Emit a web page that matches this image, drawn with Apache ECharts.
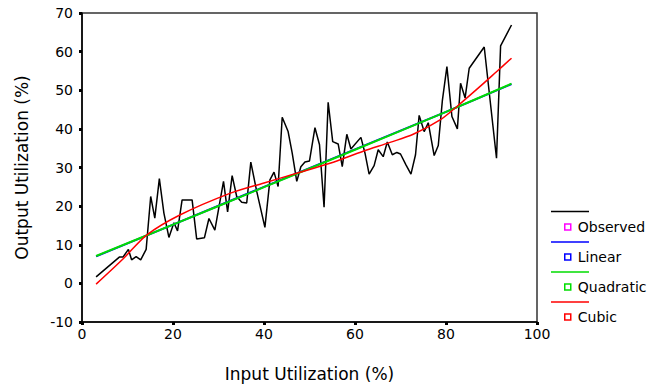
<!DOCTYPE html>
<html>
<head>
<meta charset="utf-8">
<script src="https://cdn.jsdelivr.net/npm/echarts@6/dist/echarts.min.js"></script>
<style>
html,body{margin:0;padding:0;background:#fff;}
#chart{width:658px;height:387px;}
</style>
</head>
<body>
<div id="chart"></div>
<script>
// Observed data
var obsX = [3.1,8.2,9.0,10.2,10.9,11.9,12.9,14.1,15.1,16.0,17.0,18.0,19.1,20.2,21.0,22.0,24.2,25.2,26.9,27.9,29.2,31.1,32.0,33.0,34.0,35.1,36.2,37.1,38.4,40.2,41.3,42.2,43.1,44.0,45.3,46.2,47.2,48.1,49.0,50.0,51.2,52.2,53.2,54.1,55.1,56.3,57.2,58.2,59.1,61.3,62.2,63.1,64.2,65.1,66.2,67.1,68.2,69.2,70.0,71.2,72.3,73.3,74.1,75.2,76.1,77.4,78.3,79.2,80.2,81.3,82.5,83.2,84.2,85.1,88.4,91.1,92.0,94.4];
var obsY = [1.7,6.8,6.8,8.8,6.1,6.9,6.1,8.8,22.5,16.9,27.1,18.2,11.9,15.7,13.6,21.6,21.6,11.5,11.8,16.8,13.8,26.4,18.5,27.9,22.5,21.0,20.8,31.4,23.8,14.5,26.8,28.8,25.1,43.0,39.3,33.7,26.4,30.2,31.4,31.7,40.3,35.9,19.7,46.9,36.7,36.1,30.2,38.6,34.8,37.8,33.7,28.3,30.5,34.6,32.8,36.6,33.3,33.9,33.5,30.7,28.3,33.3,43.5,39.3,41.6,33.1,35.7,47.3,56.1,43.2,40.0,51.8,48.0,55.7,61.2,32.4,61.5,66.9];
// Fitted curves
var linX = [3.1,20,40,60,80,94.4];
var linY = [7.0,15.2,25.0,34.7,44.4,51.6];
var quadX = [3.1,20,40,60,80,94.4];
var quadY = [7.1,15.2,24.9,34.6,44.4,51.7];
var cubX = [3.1,9,14.2,21.5,32.5,40,47.2,54.5,61.8,67.7,72.8,78.7,82.4,87.5,91.1,94.4];
var cubY = [-0.2,6.3,12.5,17.7,23.3,26.0,28.5,31.1,34.2,36.5,38.6,42.3,45.8,51.0,54.8,58.3];
var seriesNames = ['Observed','Linear','Quadratic','Cubic'];
var xTitle = 'Input Utilization (%)';
var yTitle = 'Output Utilization (%)';

function pairs(xs, ys){ return xs.map(function(x,i){ return [x, ys[i]]; }); }

var lineColors = ['#000000','#0000ff','#00dd00','#ff0000'];
var markerColors = ['#ff00ff','#0000ff','#00dd00','#ff0000'];
var FONT = 'DejaVu Sans';

var chart = echarts.init(document.getElementById('chart'), null, {renderer:'svg'});
var legendLineYs = [211.5, 242, 272, 302];
var graphics = legendLineYs.map(function(y,i){
  return {type:'line', shape:{x1:551,y1:y,x2:589,y2:y}, style:{stroke:lineColors[i], lineWidth:1.5}};
});

chart.setOption({
  animation:false,
  backgroundColor:'#fff',
  grid:{left:82, right:121, top:13, bottom:65, show:true, borderColor:'#333', borderWidth:1.5, backgroundColor:'transparent'},
  xAxis:{type:'value', min:0, max:100, interval:20,
    name:xTitle, nameLocation:'middle', nameGap:43,
    nameTextStyle:{fontFamily:FONT, fontSize:17, color:'#000'},
    axisLine:{onZero:false, lineStyle:{color:'#000', width:1.5}},
    axisTick:{show:true, inside:false, length:3, lineStyle:{color:'#000', width:3}},
    axisLabel:{fontFamily:FONT, fontSize:14, color:'#000', margin:5},
    splitLine:{show:false}},
  yAxis:{type:'value', min:-10, max:70, interval:10,
    name:yTitle, nameLocation:'middle', nameGap:52,
    nameTextStyle:{fontFamily:FONT, fontSize:17, color:'#000'},
    axisLine:{onZero:false, lineStyle:{color:'#000', width:1.5}},
    axisTick:{show:true, inside:false, length:3, lineStyle:{color:'#000', width:3}},
    axisLabel:{fontFamily:FONT, fontSize:14, color:'#000', margin:9},
    splitLine:{show:false}},
  legend:{orient:'vertical', left:559, top:215, itemWidth:6, itemHeight:6, itemGap:16, icon:'rect',
    textStyle:{fontFamily:FONT, fontSize:14, color:'#000', lineHeight:14, padding:[0,0,0,2]},
    data:seriesNames.map(function(n,i){ return {name:n, icon:'rect', itemStyle:{color:'#fff', borderColor:markerColors[i], borderWidth:1.5}}; })},
  graphic:graphics,
  series:[
    {name:seriesNames[0], type:'line', data:pairs(obsX,obsY), showSymbol:false, lineStyle:{color:lineColors[0], width:1.5}, itemStyle:{color:lineColors[0]}, z:2},
    {name:seriesNames[1], type:'line', data:pairs(linX,linY), showSymbol:false, smooth:0.3, lineStyle:{color:lineColors[1], width:2}, itemStyle:{color:lineColors[1]}, z:3},
    {name:seriesNames[2], type:'line', data:pairs(quadX,quadY), showSymbol:false, smooth:0.3, lineStyle:{color:lineColors[2], width:2}, itemStyle:{color:lineColors[2]}, z:4},
    {name:seriesNames[3], type:'line', data:pairs(cubX,cubY), showSymbol:false, smooth:0.3, lineStyle:{color:lineColors[3], width:1.5}, itemStyle:{color:lineColors[3]}, z:5}
  ]
});
</script>
</body>
</html>
